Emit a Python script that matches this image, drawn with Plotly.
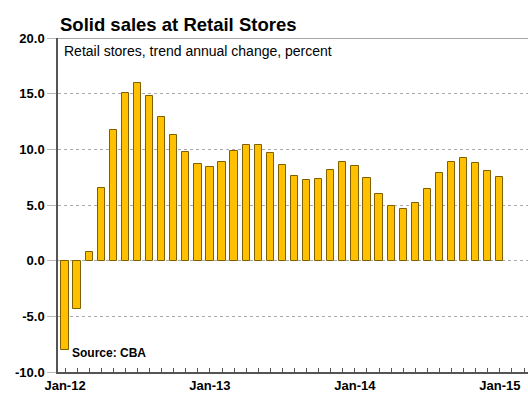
import plotly.graph_objects as go

months = ["Jan-12","Feb-12","Mar-12","Apr-12","May-12","Jun-12","Jul-12","Aug-12","Sep-12","Oct-12","Nov-12","Dec-12",
          "Jan-13","Feb-13","Mar-13","Apr-13","May-13","Jun-13","Jul-13","Aug-13","Sep-13","Oct-13","Nov-13","Dec-13",
          "Jan-14","Feb-14","Mar-14","Apr-14","May-14","Jun-14","Jul-14","Aug-14","Sep-14","Oct-14","Nov-14","Dec-14",
          "Jan-15"]
values = [-8.05, -4.3, 0.78, 6.57, 11.73, 15.1, 15.94, 14.8, 12.87, 11.28, 9.73, 8.66,
          8.45, 8.9, 9.85, 10.42, 10.36, 9.67, 8.6, 7.65, 7.23, 7.32, 8.18, 8.87,
          8.51, 7.41, 6.01, 4.94, 4.67, 5.18, 6.43, 7.86, 8.87, 9.2, 8.78, 8.04, 7.5]
y_ticks = [-10, -5, 0, 5, 10, 15, 20]

x_idx = list(range(len(months)))
n_ticks = 39
tick_pos = list(range(n_ticks))
tick_txt = [months[i] if (i < len(months) and months[i].startswith("Jan")) else "" for i in tick_pos]

font = "Arial, Liberation Sans, sans-serif"

fig = go.Figure()
fig.add_trace(go.Bar(
    x=x_idx, y=values, width=0.6,
    marker=dict(color="#FFC000", line=dict(color="#7F6000", width=1)),
))

fig.update_layout(
    width=528, height=394,
    margin=dict(l=58, r=0, t=38, b=22, autoexpand=False),
    paper_bgcolor="white", plot_bgcolor="white",
    showlegend=False, bargap=0,
    font=dict(family=font, color="black"),
    xaxis=dict(
        range=[-0.58, 38.33], tickmode="array", tickvals=tick_pos, ticktext=tick_txt,
        ticks="inside", ticklen=4, tickcolor="#555", tickwidth=1,
        showgrid=False, zeroline=False, showline=True, linecolor="#555", linewidth=1.5,
        tickfont=dict(family=font, size=13, color="black", weight="bold"),
        ticklabelstandoff=1, automargin=False,
    ),
    yaxis=dict(
        range=[-10, 20], tickmode="array", tickvals=y_ticks,
        ticktext=[f"{v:.1f}" for v in y_ticks],
        ticks="outside", ticklen=9, tickcolor="#bbb", tickwidth=1,
        showgrid=True, gridcolor="#aaa", griddash="dot", gridwidth=1,
        zeroline=False, showline=True, linecolor="#555", linewidth=1.5,
        tickfont=dict(family=font, size=13, color="black", weight="bold"),
        automargin=False,
    ),
    shapes=[dict(type="line", xref="paper", yref="y", x0=0, x1=1, y0=20, y1=20,
                 line=dict(color="#888", width=1.5))],
    annotations=[
        dict(text="<b>Solid sales at Retail Stores</b>", xref="paper", yref="paper",
             x=0.0, y=1.04, xanchor="left", yanchor="middle", showarrow=False,
             font=dict(family=font, size=18.5, color="black")),
        dict(text="Retail stores, trend annual change, percent", xref="paper", yref="paper",
             x=0.008, y=0.962, xanchor="left", yanchor="middle", showarrow=False,
             font=dict(family=font, size=14, color="black")),
        dict(text="<b>Source: CBA</b>", xref="paper", yref="paper",
             x=0.025, y=0.057, xanchor="left", yanchor="middle", showarrow=False,
             font=dict(family=font, size=12, color="black")),
    ],
)

fig.write_html("out.html")
